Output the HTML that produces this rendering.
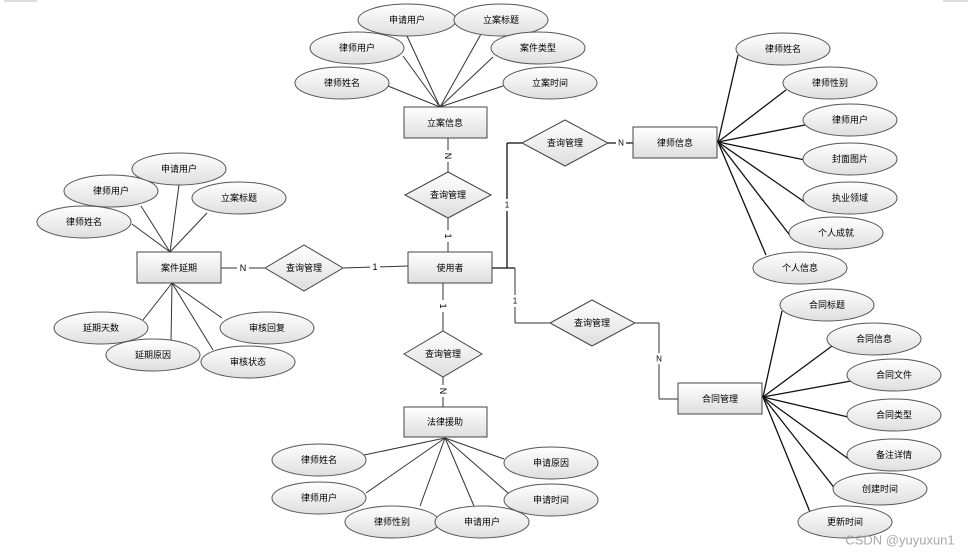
<!DOCTYPE html>
<html><head><meta charset="utf-8"><style>
html,body{margin:0;padding:0;background:#fff;}
svg{display:block;}
text{font-family:"Liberation Sans","Noto Sans CJK SC",sans-serif;font-size:9px;fill:#000;text-anchor:middle;dominant-baseline:central;}
.l{stroke:#333;stroke-width:1;fill:none;}
.b{stroke:#111;stroke-width:1.3;fill:none;}
.e{fill:url(#g);stroke:#555;stroke-width:1;}
.r{fill:url(#g);stroke:#444;stroke-width:1;}
.lab{font-size:9px;}
</style></head><body>
<svg width="970" height="557" viewBox="0 0 970 557" xmlns="http://www.w3.org/2000/svg">
<defs><linearGradient id="g" x1="0" y1="0" x2="0" y2="1"><stop offset="0" stop-color="#ffffff"/><stop offset="1" stop-color="#dedede"/></linearGradient></defs>
<line x1="4" y1="1" x2="37" y2="1" stroke="#bbb"/>
<line x1="943" y1="1" x2="968" y2="1" stroke="#bbb"/>

<!-- top group lines -->
<g class="l">
<line x1="440" y1="107" x2="407" y2="36"/><line x1="440" y1="107" x2="481" y2="34"/>
<line x1="440" y1="107" x2="403" y2="56"/><line x1="440" y1="107" x2="493" y2="57"/>
<line x1="440" y1="107" x2="388" y2="86"/><line x1="440" y1="107" x2="503" y2="86"/>
<line x1="448" y1="138" x2="448" y2="172"/><line x1="448" y1="218" x2="448" y2="252"/>
<!-- left group -->
<line x1="170" y1="252" x2="179" y2="185"/><line x1="170" y1="252" x2="141" y2="206"/>
<line x1="170" y1="252" x2="207" y2="213"/><line x1="170" y1="252" x2="132" y2="224"/>
<line x1="172" y1="283" x2="143" y2="320"/><line x1="172" y1="283" x2="171" y2="342"/>
<line x1="172" y1="283" x2="222" y2="318"/><line x1="172" y1="283" x2="213" y2="350"/>
<line x1="221" y1="268" x2="265" y2="268"/><line x1="343" y1="268" x2="408" y2="266"/>
<!-- bottom group -->
<line x1="443" y1="283" x2="443" y2="331"/><line x1="443" y1="377" x2="443" y2="407"/>
<line x1="445" y1="438" x2="364" y2="455"/><line x1="445" y1="438" x2="366" y2="493"/>
<line x1="445" y1="438" x2="420" y2="506"/><line x1="445" y1="438" x2="474" y2="506"/>
<line x1="445" y1="438" x2="504" y2="459"/><line x1="445" y1="438" x2="508" y2="493"/>
<line x1="659" y1="323" x2="659" y2="399"/><line x1="659" y1="399" x2="678" y2="399"/>
<line x1="635" y1="323" x2="659" y2="323"/>
<line x1="515" y1="268" x2="515" y2="323"/><line x1="515" y1="323" x2="550" y2="323"/>
</g>
<g class="b">
<line x1="492" y1="268" x2="515" y2="268"/>
<line x1="507" y1="268" x2="507" y2="143"/><line x1="507" y1="143" x2="522" y2="143"/>
<line x1="608" y1="143" x2="633" y2="143"/>
<!-- right group -->
<line x1="718" y1="142" x2="738" y2="55"/><line x1="718" y1="142" x2="786" y2="90"/>
<line x1="718" y1="142" x2="805" y2="125"/><line x1="718" y1="142" x2="805" y2="160"/>
<line x1="718" y1="142" x2="806" y2="203"/><line x1="718" y1="142" x2="792" y2="238"/>
<line x1="718" y1="142" x2="766" y2="255"/>
<line x1="763" y1="397" x2="782" y2="311"/><line x1="763" y1="397" x2="832" y2="346"/>
<line x1="763" y1="397" x2="851" y2="381"/><line x1="763" y1="397" x2="848" y2="417"/>
<line x1="763" y1="397" x2="850" y2="460"/><line x1="763" y1="397" x2="836" y2="490"/>
<line x1="763" y1="397" x2="810" y2="512"/>
</g>

<!-- labels on connectors -->
<g>
<rect x="443" y="150" width="10" height="12" fill="#fff"/><text x="448" y="156" transform="rotate(90 448 156)">N</text>
<rect x="443" y="230" width="10" height="12" fill="#fff"/><text x="448" y="236" transform="rotate(90 448 236)">1</text>
<rect x="237" y="262" width="12" height="12" fill="#fff"/><text x="243" y="268">N</text>
<rect x="370" y="262" width="10" height="12" fill="#fff"/><text x="375" y="267">1</text>
<rect x="503" y="199" width="8" height="12" fill="#fff"/><text x="507" y="205" style="font-size:8px">1</text>
<rect x="616" y="138" width="10" height="10" fill="#fff"/><text x="621" y="143" style="font-size:8px">N</text>
<rect x="511" y="295" width="8" height="12" fill="#fff"/><text x="515" y="301" style="font-size:8px">1</text>
<rect x="655" y="353" width="9" height="11" fill="#fff"/><text x="659" y="359" style="font-size:8px">N</text>
<rect x="438" y="300" width="10" height="12" fill="#fff"/><text x="443" y="306" transform="rotate(90 443 306)">1</text>
<rect x="438" y="385" width="10" height="12" fill="#fff"/><text x="443" y="391" transform="rotate(90 443 391)">N</text>
</g>

<!-- diamonds -->
<polygon class="r" points="405,195 448,172 491,195 448,218"/><text x="448" y="195">查询管理</text>
<polygon class="r" points="522,143 565,120 608,143 565,166"/><text x="565" y="143">查询管理</text>
<polygon class="r" points="265,268 304,245 343,268 304,291"/><text x="304" y="268">查询管理</text>
<polygon class="r" points="550,323 592,300 635,323 592,346"/><text x="592" y="323">查询管理</text>
<polygon class="r" points="404,354 443,331 482,354 443,377"/><text x="443" y="354">查询管理</text>

<!-- rects -->
<rect class="r" x="404" y="107" width="83" height="31"/><text x="445" y="123">立案信息</text>
<rect class="r" x="408" y="252" width="84" height="31"/><text x="450" y="268">使用者</text>
<rect class="r" x="137" y="252" width="84" height="31"/><text x="179" y="268">案件延期</text>
<rect class="r" x="633" y="127" width="84" height="31"/><text x="675" y="143">律师信息</text>
<rect class="r" x="678" y="383" width="84" height="31"/><text x="720" y="399">合同管理</text>
<rect class="r" x="404" y="407" width="83" height="30"/><text x="445" y="422">法律援助</text>

<!-- ellipses -->
<g>
<ellipse class="e" cx="407" cy="20" rx="49" ry="16"/><text x="407" y="20">申请用户</text>
<ellipse class="e" cx="501" cy="20" rx="47" ry="16"/><text x="501" y="20">立案标题</text>
<ellipse class="e" cx="357" cy="48" rx="47" ry="16"/><text x="357" y="48">律师用户</text>
<ellipse class="e" cx="538" cy="48" rx="47" ry="16"/><text x="538" y="48">案件类型</text>
<ellipse class="e" cx="342" cy="83" rx="47" ry="16"/><text x="342" y="83">律师姓名</text>
<ellipse class="e" cx="550" cy="83" rx="47" ry="16"/><text x="550" y="83">立案时间</text>

<ellipse class="e" cx="179" cy="169" rx="47" ry="16"/><text x="179" y="169">申请用户</text>
<ellipse class="e" cx="111" cy="191" rx="47" ry="16"/><text x="111" y="191">律师用户</text>
<ellipse class="e" cx="239" cy="198" rx="47" ry="16"/><text x="239" y="198">立案标题</text>
<ellipse class="e" cx="84" cy="222" rx="47" ry="16"/><text x="84" y="222">律师姓名</text>
<ellipse class="e" cx="101" cy="328" rx="47" ry="16"/><text x="101" y="328">延期天数</text>
<ellipse class="e" cx="267" cy="328" rx="47" ry="16"/><text x="267" y="328">审核回复</text>
<ellipse class="e" cx="153" cy="355" rx="47" ry="16"/><text x="153" y="355">延期原因</text>
<ellipse class="e" cx="248" cy="362" rx="47" ry="16"/><text x="248" y="362">审核状态</text>

<ellipse class="e" cx="783" cy="49" rx="47" ry="16"/><text x="783" y="49">律师姓名</text>
<ellipse class="e" cx="830" cy="83" rx="47" ry="16"/><text x="830" y="83">律师性别</text>
<ellipse class="e" cx="850" cy="120" rx="47" ry="16"/><text x="850" y="120">律师用户</text>
<ellipse class="e" cx="850" cy="159" rx="47" ry="16"/><text x="850" y="159">封面图片</text>
<ellipse class="e" cx="850" cy="198" rx="47" ry="16"/><text x="850" y="198">执业领域</text>
<ellipse class="e" cx="836" cy="233" rx="47" ry="16"/><text x="836" y="233">个人成就</text>
<ellipse class="e" cx="800" cy="268" rx="47" ry="16"/><text x="800" y="268">个人信息</text>

<ellipse class="e" cx="827" cy="305" rx="47" ry="16"/><text x="827" y="305">合同标题</text>
<ellipse class="e" cx="874" cy="339" rx="47" ry="16"/><text x="874" y="339">合同信息</text>
<ellipse class="e" cx="894" cy="375" rx="47" ry="16"/><text x="894" y="375">合同文件</text>
<ellipse class="e" cx="894" cy="415" rx="47" ry="16"/><text x="894" y="415">合同类型</text>
<ellipse class="e" cx="894" cy="455" rx="47" ry="16"/><text x="894" y="455">备注详情</text>
<ellipse class="e" cx="880" cy="489" rx="47" ry="16"/><text x="880" y="489">创建时间</text>
<ellipse class="e" cx="845" cy="522" rx="47" ry="16"/><text x="845" y="522">更新时间</text>

<ellipse class="e" cx="319" cy="460" rx="47" ry="16"/><text x="319" y="460">律师姓名</text>
<ellipse class="e" cx="319" cy="498" rx="47" ry="16"/><text x="319" y="498">律师用户</text>
<ellipse class="e" cx="392" cy="522" rx="47" ry="16"/><text x="392" y="522">律师性别</text>
<ellipse class="e" cx="482" cy="522" rx="47" ry="16"/><text x="482" y="522">申请用户</text>
<ellipse class="e" cx="551" cy="463" rx="47" ry="16"/><text x="551" y="463">申请原因</text>
<ellipse class="e" cx="551" cy="500" rx="47" ry="16"/><text x="551" y="500">申请时间</text>
</g>

<text x="900" y="540" style="font-size:13px;fill:#999;fill-opacity:0.85">CSDN @yuyuxun1</text>
</svg>
</body></html>
